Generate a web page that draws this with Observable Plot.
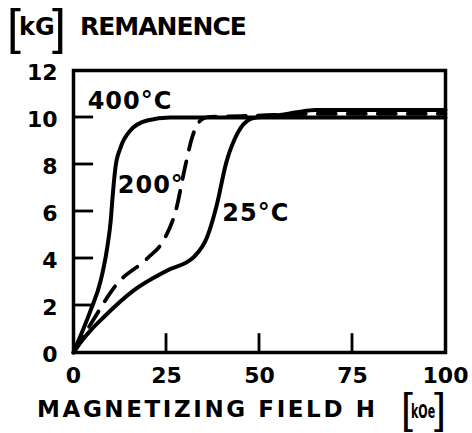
<!DOCTYPE html>
<html><head><meta charset="utf-8">
<script src="https://cdn.jsdelivr.net/npm/d3@7"></script>
<script src="https://cdn.jsdelivr.net/npm/@observablehq/plot@0.6"></script>
<style>
body{margin:0;background:#fff;color:#000;font-family:"DejaVu Sans",sans-serif;font-weight:bold}
#wrap{position:relative;width:472px;height:433px;overflow:hidden}
.box{position:relative}
.t{position:absolute;line-height:1;white-space:nowrap}
.br{font-family:"Liberation Sans",sans-serif;font-weight:normal}
.curve-label text{letter-spacing:1px}
</style></head><body>
<div id="wrap">
  <div class="box" style="height:58px">
    <span class="t br" style="left:7px;top:2px;font-size:50px">[</span>
    <span class="t" style="left:19px;top:15px;font-size:24px">kG</span>
    <span class="t br" style="left:52px;top:2px;font-size:50px">]</span>
    <span class="t" style="left:80px;top:14px;font-size:25px;letter-spacing:-1px">REMANENCE</span>
  </div>
  <div id="chart"></div>
  <div class="box" style="height:45px">
    <span class="t" style="left:37px;top:10px;font-size:23px;letter-spacing:2.6px">MAGNETIZING FIELD H</span>
    <span class="t br" style="left:401px;top:-1px;font-size:43px">[</span>
    <span class="t" style="left:411px;top:13px;font-size:20px;display:inline-block;transform:scaleX(0.55);transform-origin:0 0">kOe</span>
    <span class="t br" style="left:434px;top:-1px;font-size:43px">]</span>
  </div>
</div>
<script>
// Tick values
const xTickValues = [0, 25, 50, 75, 100];
const yTickValues = [0, 2, 4, 6, 8, 10, 12];
const xInnerTicks = [25, 50, 75];
const yInnerTicks = [2, 4, 6, 8, 10];

// 400 °C curve (H in kOe, remanence in kG)
const field400 = [0, 2, 4.6, 7.3, 9, 10, 10.5, 11.3, 12.6, 15.3, 19.8, 26, 40, 60, 100];
const rem400   = [0, 0.75, 1.79, 3.05, 4.4, 5.6, 6.6, 7.9, 8.7, 9.45, 9.87, 10.0, 10.0, 10.0, 10.0];

// 200 °C curve (dashed)
const field200 = [0, 2, 4.6, 11.7, 19.8, 24.3, 27.6, 30.0, 31.9, 34.3, 36, 45, 55, 65, 100];
const rem200   = [0, 0.52, 1.2, 2.92, 4.0, 4.8, 6.1, 7.9, 9.16, 9.9, 10.02, 10.06, 10.11, 10.16, 10.16];

// 25 °C curve
const field25 = [0, 2, 4.6, 8.1, 16.2, 25.2, 32.3, 35.9, 38.4, 41.1, 44, 47.6, 50, 55, 60, 65, 100];
const rem25   = [0, 0.45, 0.94, 1.5, 2.64, 3.49, 4.06, 4.9, 6.2, 8.1, 9.3, 9.94, 10.02, 10.1, 10.22, 10.32, 10.32];

// Curve labels
const labelText  = ["400°C", "200°", "25°C"];
const labelField = [3.8, 11.9, 40];
const labelRem   = [10.68, 7.1, 5.94];

const toRows = (hs, ms) => hs.map((h, i) => ({h, m: ms[i]}));
const c400 = toRows(field400, rem400);
const c200 = toRows(field200, rem200);
const c25 = toRows(field25, rem25);
const labels = labelText.map((t, i) => ({t, h: labelField[i], m: labelRem[i]}));

// Inward tick marks drawn as thin filled rectangles through the scales
const xHalfW = 0.38, xLen = 0.8;   // kOe half-width, kG length
const yHalfW = 0.06, yLen = 5.4;   // kG half-width, kOe length

const chart = Plot.plot({
  width: 472,
  height: 330,
  marginTop: 12,
  marginBottom: 36,
  marginLeft: 73,
  marginRight: 27,
  style: {fontFamily: "DejaVu Sans", fontSize: "22px", fontWeight: "bold", color: "#000", background: "#fff", overflow: "visible"},
  x: {domain: [0, 100]},
  y: {domain: [0, 12]},
  marks: [
    Plot.frame({stroke: "#000", strokeWidth: 3.5}),
    Plot.rect(xInnerTicks, {x1: d => d - xHalfW, x2: d => d + xHalfW, y1: () => 0, y2: () => xLen, fill: "#000"}),
    Plot.rect(yInnerTicks, {y1: d => d - yHalfW, y2: d => d + yHalfW, x1: () => 0, x2: () => yLen, fill: "#000"}),
    Plot.line(c25, {x: "h", y: "m", stroke: "#000", strokeWidth: 4, curve: "monotone-x"}),
    Plot.line(c200, {x: "h", y: "m", stroke: "#000", strokeWidth: 3.8, strokeDasharray: "18,12", curve: "monotone-x"}),
    Plot.line(c400, {x: "h", y: "m", stroke: "#000", strokeWidth: 4, curve: "monotone-x"}),
    Plot.text(labels, {x: "h", y: "m", text: "t", textAnchor: "start", fontSize: 24, fontWeight: "bold", fill: "#000", className: "curve-label"}),
    Plot.axisX(xTickValues, {tickSize: 0, tickPadding: 15, label: null, fontSize: 22}),
    Plot.axisY(yTickValues, {tickSize: 0, tickPadding: 16, label: null, fontSize: 22, dy: 2})
  ]
});
document.getElementById("chart").appendChild(chart);
</script>
</body></html>
